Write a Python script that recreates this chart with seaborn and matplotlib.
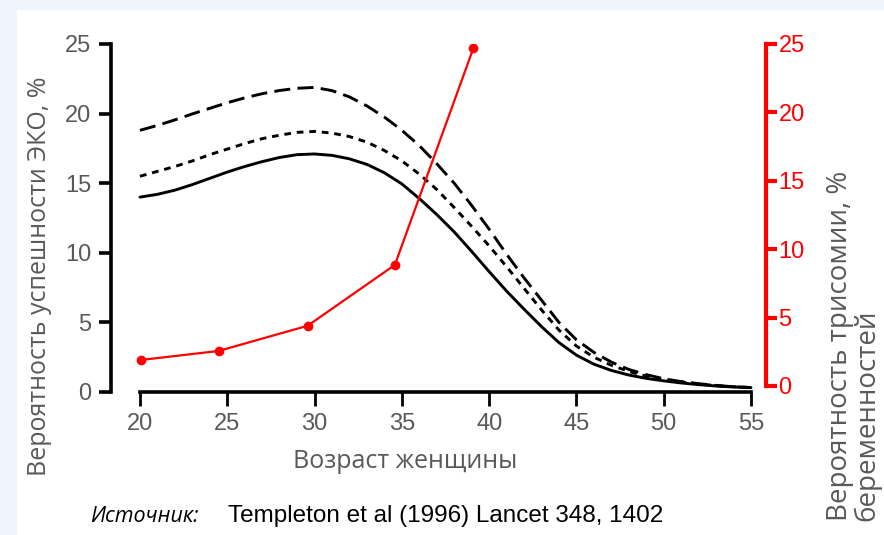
import pandas as pd
import numpy as np
import matplotlib.pyplot as plt
import seaborn as sns
from matplotlib.patches import Rectangle

# возраст женщины, годы
age = list(range(20, 56))
# вероятность успешности ЭКО, % (три кривые)
ivf_low = [14.0, 14.2, 14.5, 14.9, 15.35, 15.8, 16.2, 16.55, 16.85, 17.05,
           17.1, 17.0, 16.75, 16.35, 15.75, 14.95, 13.9, 12.75, 11.5, 10.1,
           8.65, 7.25, 5.95, 4.7, 3.55, 2.65, 2.0, 1.55, 1.22, 0.98,
           0.8, 0.65, 0.53, 0.43, 0.36, 0.31]
ivf_mid = [15.5, 15.85, 16.2, 16.6, 17.05, 17.45, 17.85, 18.2, 18.45, 18.65,
           18.72, 18.6, 18.35, 17.95, 17.35, 16.6, 15.65, 14.55, 13.25, 11.9,
           10.5, 9.0, 7.45, 5.9, 4.45, 3.3, 2.5, 1.92, 1.48, 1.14,
           0.9, 0.72, 0.58, 0.46, 0.38, 0.32]
ivf_high = [18.8, 19.15, 19.55, 19.98, 20.38, 20.78, 21.13, 21.43, 21.66, 21.82,
            21.88, 21.65, 21.2, 20.55, 19.75, 18.8, 17.7, 16.4, 15.0, 13.4,
            11.7, 9.9, 8.2, 6.6, 5.0, 3.75, 2.85, 2.15, 1.62, 1.25,
            0.95, 0.75, 0.6, 0.47, 0.38, 0.32]
# вероятность трисомии, %
tri_age = [20.05, 24.5, 29.6, 34.6, 39.1]
tri_val = [1.9, 2.56, 4.4, 8.85, 24.7]

gray = '#595959'
red = '#ff0000'

sns.set_style('white')
plt.rcParams['font.family'] = ['Liberation Sans', 'DejaVu Sans']
cyr = ['Open Sans', 'DejaVu Sans']

fig = plt.figure(figsize=(8.84, 5.35), dpi=100, facecolor='#eef5fc')
fig.patches.append(Rectangle((17 / 884, 0), 1, 1 - 10 / 535, transform=fig.transFigure,
                             facecolor='white', edgecolor='none', zorder=-10))
ax = fig.add_axes([111 / 884, 1 - 392 / 535, (766 - 111) / 884, (392 - 44) / 535])
ax.patch.set_alpha(0)

df = pd.DataFrame({'age': age, 'low': ivf_low, 'mid': ivf_mid, 'high': ivf_high})
sns.lineplot(data=df, x='age', y='high', ax=ax, color='black', lw=2.1, linestyle=(0, (5.5, 2.5)))
sns.lineplot(data=df, x='age', y='mid', ax=ax, color='black', lw=2.1, linestyle=(0, (2.3, 2.0)))
sns.lineplot(data=df, x='age', y='low', ax=ax, color='black', lw=2.1)

ax.set_xlim(18.34, 55.86)
ax.set_ylim(0, 25)
ax.set_xticks(range(20, 56, 5))
ax.set_yticks(range(0, 26, 5))
sns.despine(ax=ax)
for s in ['left', 'bottom']:
    ax.spines[s].set_linewidth(2.6)
    ax.spines[s].set_color('black')
ax.spines['bottom'].set_bounds(20, 55)
ax.spines['left'].set_bounds(0, 25)
ax.tick_params(axis='y', left=True, length=9, width=2.6, color='black', labelcolor=gray,
               labelsize=17, pad=5)
ax.tick_params(axis='x', bottom=True, length=10, width=2, color='black', labelcolor=gray,
               labelsize=17, pad=5)
ax.set_xlabel('')
ax.set_ylabel('')

ax2 = ax.twinx()
tri = pd.DataFrame({'age': tri_age, 'val': tri_val})
sns.lineplot(data=tri, x='age', y='val', ax=ax2, color=red, lw=1.6, marker='o',
             markersize=7, markeredgewidth=0)
ax2.set_ylim(-0.44, 25)
ax2.set_yticks(range(0, 26, 5))
for s in ['top', 'left', 'bottom']:
    ax2.spines[s].set_visible(False)
ax2.spines['right'].set_visible(True)
ax2.spines['right'].set_color(red)
ax2.spines['right'].set_linewidth(3)
ax2.spines['right'].set_bounds(0, 25)
ax2.tick_params(axis='y', right=True, length=8, width=3, color=red, labelcolor=red,
                labelsize=17, pad=1)
ax2.set_xlabel('')
ax2.set_ylabel('')

fig.text(40 / 884, 1 - 276 / 535, 'Вероятность успешности ЭКО, %', rotation=90,
         ha='center', va='center', color=gray, fontsize=18, family=cyr)
fig.text(405 / 884, 1 - 462 / 535, 'Возраст женщины', ha='center', va='center',
         color=gray, fontsize=18, family=cyr)
fig.text(854 / 884, 1 - 521 / 535, 'Вероятность трисомии, %\nбеременностей', rotation=90,
         ha='center', va='bottom', multialignment='left', color=gray, fontsize=20,
         linespacing=0.95, family=cyr)
fig.text(90 / 884, 1 - 516 / 535, 'Источник:', ha='left', va='center', style='italic',
         color='black', fontsize=15.5, family=cyr)
fig.text(228 / 884, 1 - 516 / 535, 'Templeton et al (1996) Lancet 348, 1402', ha='left',
         va='center', color='black', fontsize=17.5)

fig.savefig('out.png', dpi=100, facecolor=fig.get_facecolor())
